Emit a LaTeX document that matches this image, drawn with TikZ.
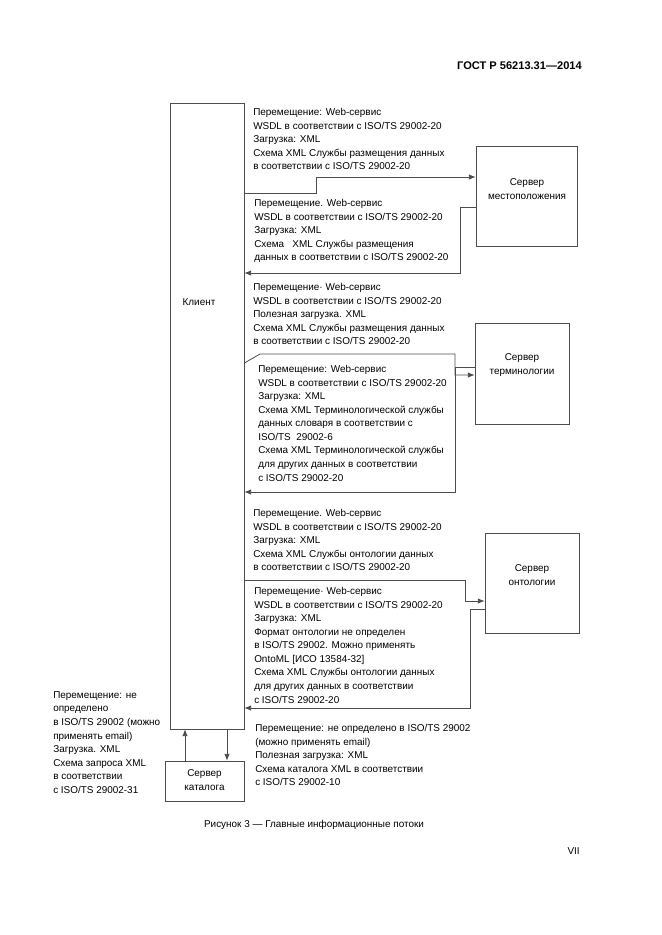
\documentclass[tikz,border=0pt]{standalone}
\usepackage{fontspec}
\setmainfont{Liberation Sans}
\usetikzlibrary{arrows.meta,fit}
\begin{document}
\begin{tikzpicture}[x=0.75pt,y=-0.75pt,
  txt/.style={anchor=north west,inner sep=0pt,align=left,font=\fontsize{7.45}{10.15}\selectfont,text=black},
  lbl/.style={inner sep=0pt,align=center,font=\fontsize{7.45}{10.15}\selectfont,text=black},
  boxnode/.style={draw=black!70,line width=0.6pt,inner sep=0pt},
  ln/.style={draw=black!70,line width=0.6pt},
  arr/.style={ln,-{Latex[length=5pt,width=4pt]}}]
\useasboundingbox (0,0) rectangle (661,935);
% boxes
\coordinate (c1) at (170,103); \coordinate (c2) at (244,729);
\node[boxnode,fit=(c1)(c2)] (client) {};
\coordinate (l1) at (476,146); \coordinate (l2) at (577,246);
\node[boxnode,fit=(l1)(l2)] (loc) {};
\coordinate (t1) at (475,323); \coordinate (t2) at (569,424);
\node[boxnode,fit=(t1)(t2)] (term) {};
\coordinate (o1) at (485,533); \coordinate (o2) at (579,633);
\node[boxnode,fit=(o1)(o2)] (onto) {};
\coordinate (k1) at (165,761); \coordinate (k2) at (244,801);
\node[boxnode,fit=(k1)(k2)] (cat) {};
% labels
\node[lbl] (clientlbl) at (199,302) {Клиент};
\node[lbl] (loclbl) at (527,189) {Сервер\\местоположения};
\node[lbl] (termlbl) at (522,365) {Сервер\\терминологии};
\node[lbl] (ontolbl) at (532,575) {Сервер\\онтологии};
\node[lbl] (catlbl) at (204.5,780) {Сервер\\каталога};
% header, caption, page
\node[inner sep=0pt,anchor=east,font=\fontsize{8.3}{10}\selectfont\bfseries] (hdr) at (582,66) {ГОСТ Р 56213.31—2014};
\node[lbl] (cap) at (314,825) {Рисунок 3 — Главные информационные потоки};
\node[inner sep=0pt,anchor=east,font=\fontsize{7.45}{10}\selectfont] (pg) at (580,851) {VII};
% text blocks
\node[txt] (b1) at (253,108.3) {Перемещение: Web-сервис\\WSDL в соответствии с ISO/TS 29002-20\\Загрузка: XML\\Схема XML Службы размещения данных\\в соответствии с ISO/TS 29002-20};
\node[txt] (b2) at (254,199.3) {Перемещение. Web-сервис\\WSDL в соответствии с ISO/TS 29002-20\\Загрузка: XML\\Схема\ \ \ XML Службы размещения\\данных в соответствии с ISO/TS 29002-20};
\node[txt] (b3) at (253,283.3) {Перемещение· Web-сервис\\WSDL в соответствии с ISO/TS 29002-20\\Полезная загрузка. XML\\Схема XML Службы размещения данных\\в соответствии с ISO/TS 29002-20};
\node[txt] (b4) at (258,365.3) {Перемещение: Web-сервис\\WSDL в соответствии с ISO/TS 29002-20\\Загрузка: XML\\Схема XML Терминологической службы\\данных словаря в соответствии с\\ISO/TS\ \ 29002-6\\Схема XML Терминологической службы\\для других данных в соответствии\\с ISO/TS 29002-20};
\node[txt] (b5) at (253,509.3) {Перемещение. Web-сервис\\WSDL в соответствии с ISO/TS 29002-20\\Загрузка: XML\\Схема XML Службы онтологии данных\\в соответствии с ISO/TS 29002-20};
\node[txt] (b6) at (254,587.3) {Перемещение· Web-сервис\\WSDL в соответствии с ISO/TS 29002-20\\Загрузка: XML\\Формат онтологии не определен\\в ISO/TS 29002. Можно применять\\OntoML [ИСО 13584-32]\\Схема XML Службы онтологии данных\\для других данных в соответствии\\с ISO/TS 29002-20};
\node[txt] (bl) at (53,691.3) {Перемещение: не\\определено\\в ISO/TS 29002 (можно\\применять email)\\Загрузка. XML\\Схема запроса XML\\в соответствии\\с ISO/TS 29002-31};
\node[txt] (br) at (255,724.3) {Перемещение: не определено в ISO/TS 29002\\(можно применять email)\\Полезная загрузка: XML\\Схема каталога XML в соответствии\\с ISO/TS 29002-10};
% bend points
\coordinate (p1) at (316,193); \coordinate (p1b) at (316,177);
\coordinate (p2) at (460,207); \coordinate (p2b) at (460,273);
\coordinate (p3) at (260,354); \coordinate (p3b) at (455,354); \coordinate (p3c) at (455,375);
\coordinate (p4) at (455,367); \coordinate (p4b) at (455,492);
\coordinate (p5) at (465,580); \coordinate (p5b) at (465,601);
\coordinate (p6) at (470,609); \coordinate (p6b) at (470,708);
\coordinate (q1) at (185,0); \coordinate (q2) at (227,0);
% connectors
\draw[arr] (client.east |- p1) -- (p1) -- (p1b) -- (loc.west |- p1b);
\draw[arr] (loc.west |- p2) -- (p2) -- (p2b) -- (client.east |- p2b);
\draw[arr] (client.east |- 0,363) -- (p3) -- (p3b) -- (p3c) -- (term.west |- p3c);
\draw[arr] (term.west |- p4) -- (p4) -- (p4b) -- (client.east |- p4b);
\draw[arr] (client.east |- p5) -- (p5) -- (p5b) -- (onto.west |- p5b);
\draw[arr] (onto.west |- p6) -- (p6) -- (p6b) -- (client.east |- p6b);
\draw[arr] (cat.north -| q1) -- (client.south -| q1);
\draw[arr] (client.south -| q2) -- (cat.north -| q2);
\end{tikzpicture}
\end{document}
